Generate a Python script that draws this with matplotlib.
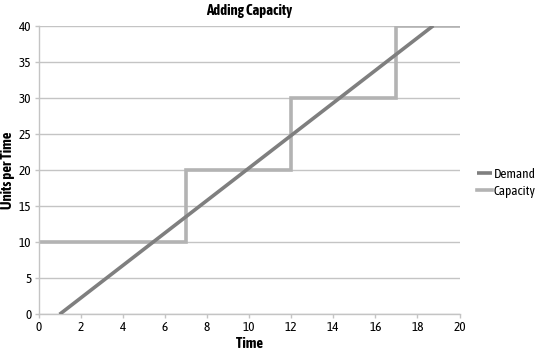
import matplotlib
matplotlib.use("Agg")
import matplotlib.pyplot as plt
from matplotlib import font_manager

fl = font_manager.fontManager.ttflist
narrow_names = sorted(set(f.name for f in fl if 'Narrow' in f.name or 'Condensed' in f.name))
bold_narrow = [n for n in narrow_names
               if any(f.name == n and (f.weight in ('bold', 700, 'heavy', 800) or (isinstance(f.weight, int) and f.weight >= 600)) for f in fl)]
chosen = (bold_narrow or narrow_names)[:1]
plt.rcParams['font.family'] = chosen + ['Liberation Sans', 'DejaVu Sans']

demand_x = [1, 18.75]
demand_y = [0, 40]
capacity_x = [0, 7, 7, 12, 12, 17, 17, 20]
capacity_y = [10, 10, 20, 20, 30, 30, 40, 40]
x_ticks = [0, 2, 4, 6, 8, 10, 12, 14, 16, 18, 20]
y_ticks = [0, 5, 10, 15, 20, 25, 30, 35, 40]

fs = 9.5 if chosen else 8

fig = plt.figure(figsize=(5.35, 3.52), dpi=100)
ax = fig.add_axes([0.072, 0.107, 0.787, 0.820])

ax.plot(demand_x, demand_y, color='#7f7f7f', lw=2.6, label='Demand', solid_capstyle='butt', zorder=3)
ax.plot(capacity_x, capacity_y, color='#b3b3b3', lw=2.6, label='Capacity', solid_joinstyle='miter', zorder=2)

ax.set_xlim(0, 20)
ax.set_ylim(0, 40)
ax.set_xticks(x_ticks)
ax.set_yticks(y_ticks)
ax.yaxis.grid(True, color='#c4c4c4', lw=1)
ax.set_axisbelow(True)
for s in ['top', 'right']:
    ax.spines[s].set_visible(False)
for s in ['left', 'bottom']:
    ax.spines[s].set_color('#c4c4c4')
    ax.spines[s].set_linewidth(1)
ax.tick_params(axis='both', colors='#c4c4c4', labelcolor='black', labelsize=fs, length=3, width=1, pad=2)

ax.set_title('Adding Capacity', fontsize=10.5, fontweight='bold', pad=8)
ax.set_xlabel('Time', fontsize=10.5, fontweight='bold', labelpad=2)
ax.set_ylabel('Units per Time', fontsize=10.5, fontweight='bold', labelpad=3)

leg = ax.legend(loc='center left', bbox_to_anchor=(1.042, 0.455), frameon=False, fontsize=fs,
                handlelength=1.1, handletextpad=0.15, labelspacing=0.3, borderaxespad=0, borderpad=0)

fig.savefig('out.png', dpi=100)
